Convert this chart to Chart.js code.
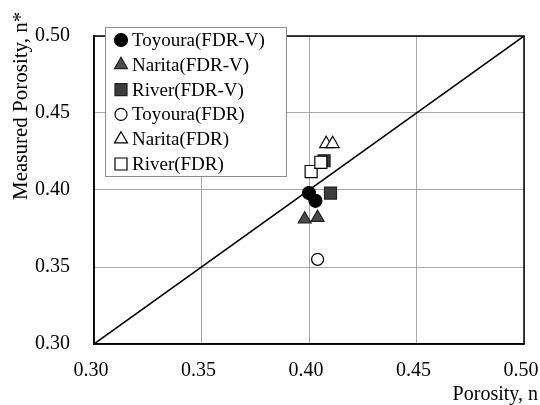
<!DOCTYPE html>
<html><head><meta charset="utf-8">
<script src="https://cdn.jsdelivr.net/npm/chart.js@4/dist/chart.umd.min.js"></script>
<style>html,body{margin:0;padding:0;background:#fff}#c{display:block}</style>
</head><body>
<div style="width:540px;height:405px"><canvas id="c" width="540" height="405"></canvas></div>
<script>
const seriesNames = ['Toyoura(FDR-V)','Narita(FDR-V)','River(FDR-V)','Toyoura(FDR)','Narita(FDR)','River(FDR)'];
const toyouraFDRV_x = [0.400, 0.403];
const toyouraFDRV_y = [0.398, 0.393];
const naritaFDRV_x = [0.398, 0.404];
const naritaFDRV_y = [0.381, 0.382];
const riverFDRV_x = [0.407, 0.410];
const riverFDRV_y = [0.419, 0.398];
const toyouraFDR_x = [0.404];
const toyouraFDR_y = [0.355];
const naritaFDR_x = [0.408, 0.411];
const naritaFDR_y = [0.430, 0.430];
const riverFDR_x = [0.401, 0.4055];
const riverFDR_y = [0.412, 0.418];
const lineX = [0.30, 0.50];
const lineY = [0.30, 0.50];
const xTickLabels = ['0.30','0.35','0.40','0.45','0.50'];
const yTickLabels = ['0.30','0.35','0.40','0.45','0.50'];
const xTitle = 'Porosity, n';
const yTitle = 'Measured Porosity, n*';

function pts(xs, ys){ return xs.map((x,i)=>({x:x, y:ys[i]})); }
const FONT = 'Liberation Serif, Times New Roman, serif';

const styles = [
  {pointStyle:'circle', radius:6.5, bg:'#000000', bc:'#000000'},
  {pointStyle:'triangle', radius:7.5, bg:'#4a4a4a', bc:'#222222'},
  {pointStyle:'rect', radius:8.5, bg:'#3c3c3c', bc:'#222222'},
  {pointStyle:'circle', radius:6, bg:'#ffffff', bc:'#000000'},
  {pointStyle:'triangle', radius:7.5, bg:'#ffffff', bc:'#000000'},
  {pointStyle:'rect', radius:8.5, bg:'#ffffff', bc:'#000000'}
];
const seriesData = [
  pts(toyouraFDRV_x, toyouraFDRV_y), pts(naritaFDRV_x, naritaFDRV_y), pts(riverFDRV_x, riverFDRV_y),
  pts(toyouraFDR_x, toyouraFDR_y), pts(naritaFDR_x, naritaFDR_y), pts(riverFDR_x, riverFDR_y)
];
const datasets = seriesNames.map((n,i)=>({
  label:n, data:seriesData[i], pointStyle:styles[i].pointStyle, pointRadius:styles[i].radius,
  pointHoverRadius:styles[i].radius, backgroundColor:styles[i].bg, borderColor:styles[i].bc,
  pointBorderWidth:1.2, showLine:false, order: i<3 ? 2 : 1
}));
datasets.push({label:'1:1', data:pts(lineX,lineY), showLine:true, pointRadius:0, borderColor:'#000', borderWidth:1.5, order:5, fill:false});

const frame = {
  id:'frame',
  beforeDatasetsDraw(chart){
    const {ctx, chartArea:a} = chart;
    ctx.save();
    ctx.strokeStyle = '#000'; ctx.lineWidth = 1.5;
    ctx.strokeRect(a.left, a.top, a.right-a.left, a.bottom-a.top);
    // legend box
    const lx=105, ly=27, lw=181, lh=149;
    ctx.fillStyle='#fff'; ctx.fillRect(lx,ly,lw,lh);
    ctx.strokeStyle='#8c8c8c'; ctx.lineWidth=1; ctx.strokeRect(lx+0.5,ly+0.5,lw,lh);
    ctx.font = '19px ' + FONT; ctx.textBaseline='middle'; ctx.textAlign='left';
    seriesNames.forEach((n,i)=>{
      const y = 40 + i*24.8;
      const s = styles[i];
      ctx.fillStyle = s.bg; ctx.strokeStyle = s.bc; ctx.lineWidth = 1.2;
      Chart.helpers.drawPoint(ctx, {pointStyle:s.pointStyle, radius:s.radius, rotation:0, borderWidth:1.2}, 121, y);
      ctx.fillStyle='#000';
      ctx.fillText(n, 132, y+1);
    });
    ctx.restore();
  },
  afterDraw(chart){
    const ctx = chart.ctx;
    ctx.save();
    ctx.font = '20px ' + FONT; ctx.fillStyle='#000'; ctx.textAlign='right'; ctx.textBaseline='middle';
    ctx.fillText(xTitle, 538, 395);
    ctx.translate(21, 8);
    ctx.rotate(-Math.PI/2);
    ctx.font = '21px ' + FONT;
    ctx.textAlign='left';
    ctx.fillText(yTitle, -192, 0);
    ctx.restore();
  }
};

new Chart(document.getElementById('c'), {
  type:'scatter',
  data:{datasets},
  options:{
    responsive:false, animation:false, devicePixelRatio:1,
    layout:{padding:{left:0, top:20, right:16, bottom:0}},
    plugins:{legend:{display:false}, tooltip:{enabled:false}},
    scales:{
      x:{
        type:'linear', min:0.3, max:0.5,
        ticks:{stepSize:0.05, padding:15, labelOffset:-3, color:'#000', font:{family:FONT, size:20},
          callback:(v,i)=>xTickLabels[i]},
        grid:{color:'#a8a8a8', lineWidth:1, drawTicks:false},
        border:{display:true, color:'#000', width:1.5},
        afterFit(s){ s.height = 61; s.paddingLeft = 0; s.paddingRight = 0; }
      },
      y:{
        type:'linear', min:0.3, max:0.5,
        ticks:{stepSize:0.05, padding:24, color:'#000', font:{family:FONT, size:20},
          callback:(v,i)=>yTickLabels[i]},
        grid:{color:'#a8a8a8', lineWidth:1, drawTicks:false},
        border:{display:true, color:'#000', width:1.5},
        afterFit(s){ s.width = 94; }
      }
    }
  },
  plugins:[frame]
});
</script>
</body></html>
